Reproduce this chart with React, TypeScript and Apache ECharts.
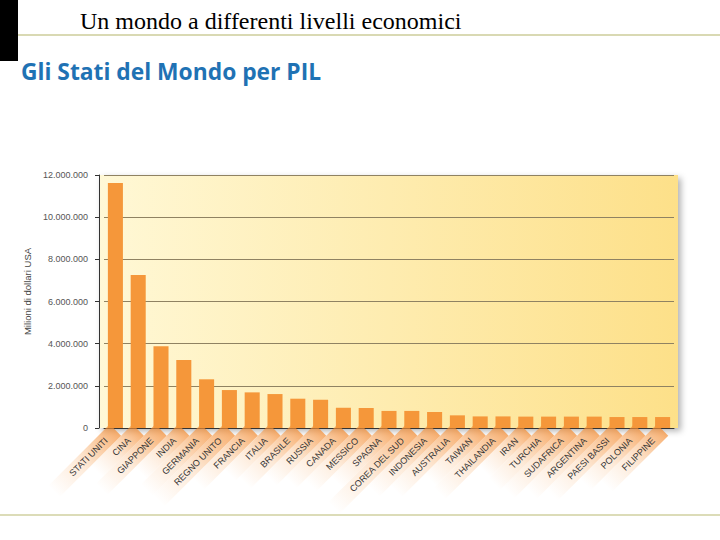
import React, { useEffect, useRef } from "react";
import * as echarts from "echarts";

const pageTitle = "Un mondo a differenti livelli economici";
const chartTitle = "Gli Stati del Mondo per PIL";
const yAxisName = "Milioni di dollari USA";

const countries = [
  "STATI UNITI", "CINA", "GIAPPONE", "INDIA", "GERMANIA", "REGNO UNITO",
  "FRANCIA", "ITALIA", "BRASILE", "RUSSIA", "CANADA", "MESSICO", "SPAGNA",
  "COREA DEL SUD", "INDONESIA", "AUSTRALIA", "TAIWAN", "THAILANDIA", "IRAN",
  "TURCHIA", "SUDAFRICA", "ARGENTINA", "PAESI BASSI", "POLONIA", "FILIPPINE",
];

// Milioni di dollari USA
const gdp = [
  11620000, 7260000, 3880000, 3220000, 2310000, 1800000,
  1690000, 1610000, 1390000, 1340000, 960000, 950000, 810000,
  810000, 760000, 600000, 550000, 550000, 540000,
  540000, 540000, 540000, 520000, 520000, 520000,
];

const yMin = 0;
const yMax = 12000000;
const yStep = 2000000;

const fmt = (v: number) => String(Math.round(v)).replace(/\B(?=(\d{3})+(?!\d))/g, ".");

export default function App() {
  const ref = useRef<HTMLDivElement>(null);
  useEffect(() => {
    if (!ref.current) return;
    const chart = echarts.init(ref.current, null, { renderer: "svg" });
    const stripe = new echarts.graphic.LinearGradient(0, 0, 1, 0, [
      { offset: 0, color: "rgba(247,160,80,0)" },
      { offset: 0.45, color: "rgba(247,160,80,0.22)" },
      { offset: 1, color: "rgba(244,140,50,0.7)" },
    ]);
    chart.setOption({
      animation: false,
      backgroundColor: "#ffffff",
      graphic: [
        { type: "rect", shape: { x: 0, y: 0, width: 18, height: 61 }, style: { fill: "#000" }, silent: true },
        { type: "rect", shape: { x: 18, y: 34, width: 702, height: 2 }, style: { fill: "#d9d9b3" }, silent: true },
        { type: "rect", shape: { x: 0, y: 514, width: 720, height: 2 }, style: { fill: "#dcdcb8" }, silent: true },
        {
          type: "text", left: 80, top: 9,
          style: { text: pageTitle, fill: "#000", font: '24px "Liberation Serif", serif' },
          silent: true,
        },
        {
          type: "text", left: 21, top: 60,
          style: { text: chartTitle, fill: "#1f72b4", font: 'bold 22.8px "Open Sans", sans-serif' },
          silent: true,
        },
        {
          type: "rect", z: -10,
          shape: { x: 99, y: 175, width: 579, height: 253 },
          style: {
            fill: new echarts.graphic.LinearGradient(0, 0, 1, 0, [
              { offset: 0, color: "#fff8d6" },
              { offset: 1, color: "#fde089" },
            ]),
            shadowBlur: 6, shadowOffsetX: 3, shadowOffsetY: 3, shadowColor: "rgba(0,0,0,0.3)",
          },
          silent: true,
        },
      ],
      grid: { left: 104, right: 46, top: 175, bottom: 112, containLabel: false },
      xAxis: {
        type: "category",
        data: countries,
        axisLine: { show: true, lineStyle: { color: "#333", width: 1 } },
        axisTick: { show: false },
        axisLabel: {
          interval: 0,
          rotate: 45,
          margin: 2,
          fontSize: 9,
          color: "#333",
          fontFamily: '"Liberation Sans", Arial, sans-serif',
          backgroundColor: stripe,
          padding: [4, 13, 3, 24],
        },
      },
      yAxis: {
        type: "value",
        min: yMin,
        max: yMax,
        interval: yStep,
        offset: 5,
        name: yAxisName,
        nameLocation: "middle",
        nameGap: 63,
        nameTextStyle: { fontSize: 9.5, color: "#444", fontFamily: '"Liberation Sans", Arial, sans-serif', padding: [0, 0, 0, 20] },
        axisLine: { show: true, lineStyle: { color: "#333" } },
        axisTick: { show: true, length: 4, lineStyle: { color: "#333" } },
        axisLabel: {
          margin: 11,
          fontSize: 9,
          color: "#555",
          fontFamily: '"Liberation Sans", Arial, sans-serif',
          formatter: (v: number) => fmt(v),
        },
        splitLine: { show: true, lineStyle: { color: "#8f8262", width: 1 } },
      },
      series: [
        {
          type: "bar",
          data: gdp,
          barWidth: "66%",
          itemStyle: { color: "#f5973a" },
        },
      ],
    });
    return () => chart.dispose();
  }, []);
  return <div ref={ref} style={{ position: "fixed", left: 0, top: 0, width: 720, height: 540 }} />;
}
